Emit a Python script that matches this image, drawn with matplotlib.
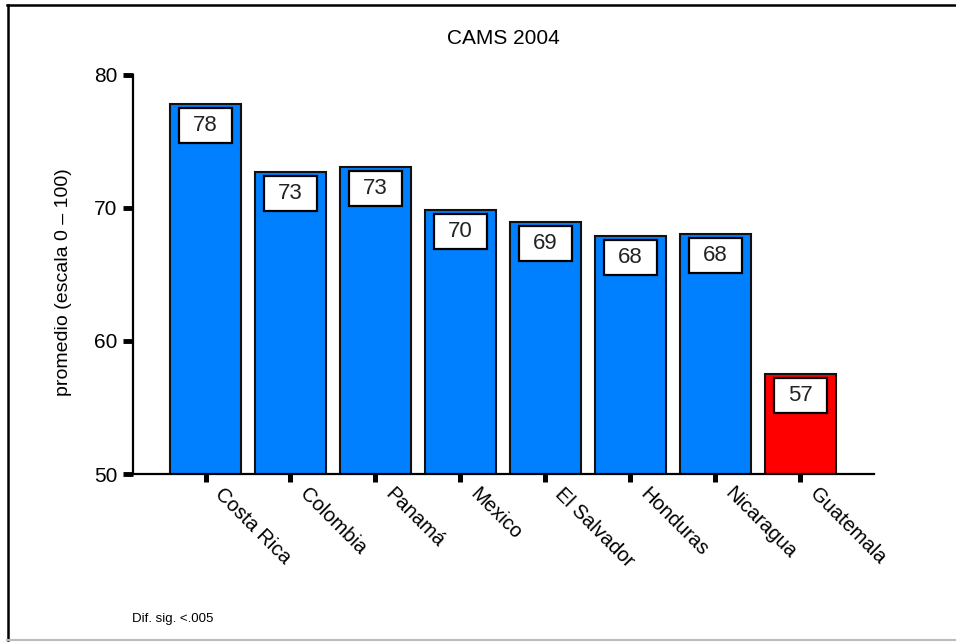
import matplotlib
matplotlib.use("Agg")
import matplotlib.pyplot as plt
from matplotlib.patches import Rectangle
from matplotlib.lines import Line2D
import matplotlib.transforms as mtransforms

plt.rcParams['font.family'] = ['Liberation Sans', 'DejaVu Sans']

countries = ["Costa Rica", "Colombia", "Panamá", "Mexico", "El Salvador",
             "Honduras", "Nicaragua", "Guatemala"]
values = [77.8, 72.7, 73.1, 69.8, 68.9, 67.85, 68.05, 57.5]
labels = ["78", "73", "73", "70", "69", "68", "68", "57"]
colors = ["#0080FF"] * 7 + ["#FF0000"]
yticks = [50, 60, 70, 80]
title = "CAMS 2004"
ylabel = "promedio (escala 0 – 100)"
note = "Dif. sig. <.005"

W, H = 956, 642
fig = plt.figure(figsize=(W / 100, H / 100), dpi=100)
ax = fig.add_axes([133 / W, 1 - 474 / H, (874 - 133) / W, (474 - 74.7) / H])

x = list(range(len(countries)))
ax.bar(x, values, width=0.83, color=colors, edgecolor="#111111", linewidth=1.5, zorder=2)

# value boxes
bw, bh, off = 0.625, 2.63, 0.3
for xi, v, lab in zip(x, values, labels):
    ax.add_patch(Rectangle((xi - bw / 2, v - off - bh), bw, bh, facecolor="white",
                           edgecolor="black", linewidth=1.6, zorder=3))
    ax.text(xi, v - off - bh / 2, lab, ha="center", va="center", fontsize=16,
            color="#222222", zorder=4)

ax.set_xlim(-0.853, 7.865)
ax.set_ylim(50, 80)
ax.set_yticks(yticks)
ax.set_yticklabels([str(t) for t in yticks], fontsize=15)
ax.set_xticks(x)
ax.set_xticklabels([])

# rotated category labels
lab_tr = ax.get_xaxis_transform() + mtransforms.ScaledTranslation(
    19 / 100, -10 / 100, fig.dpi_scale_trans)
for xi, name in zip(x, countries):
    ax.text(xi, 0, name, transform=lab_tr, fontsize=14.5, rotation=-45,
            ha="left", va="top", rotation_mode="anchor", clip_on=False)

ax.tick_params(axis="y", direction="out", length=7, width=3.5, pad=4)
ax.tick_params(axis="x", direction="out", length=6, width=3.6, pad=2)
for s in ["top", "right"]:
    ax.spines[s].set_visible(False)
for s in ["left", "bottom"]:
    ax.spines[s].set_linewidth(1.6)
    ax.spines[s].set_color("black")

ax.set_ylabel(ylabel, fontsize=14)
ax.yaxis.set_label_coords(-(133 - 72) / (874 - 133), 0.48)

fig.text(503 / W, 1 - 39 / H, title, ha="center", va="center", fontsize=15)
fig.text(132 / W, 1 - 619 / H, note, ha="left", va="center", fontsize=9.5)

# outer frame
fig.add_artist(Line2D([7 / W, 1], [1 - 5 / H, 1 - 5 / H], color="black", linewidth=1.8,
                      transform=fig.transFigure))
fig.add_artist(Line2D([7.5 / W, 7.5 / W], [1 - 5 / H, 1 - 640 / H], color="black",
                      linewidth=1.8, transform=fig.transFigure))
fig.add_artist(Line2D([7 / W, 1], [1 - 640 / H, 1 - 640 / H], color="#bbbbbb",
                      linewidth=1.5, transform=fig.transFigure))

fig.savefig("out.png", dpi=100)
